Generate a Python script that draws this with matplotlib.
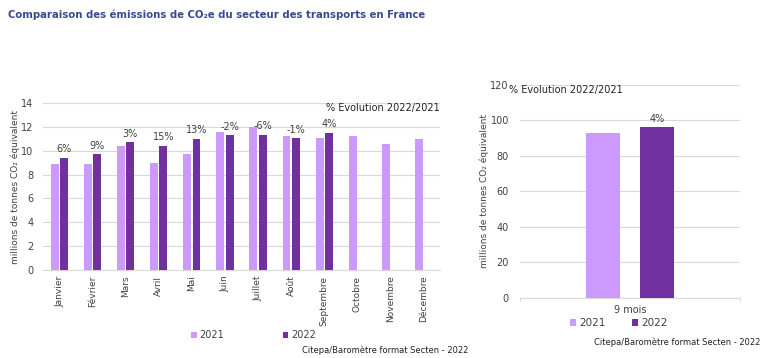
import numpy as np
import matplotlib
matplotlib.use('Agg')
import matplotlib.pyplot as plt

months = ['Janvier', 'Février', 'Mars', 'Avril', 'Mai', 'Juin', 'Juillet',
          'Août', 'Septembre', 'Octobre', 'Novembre', 'Décembre']
vals_2021 = [8.9, 8.9, 10.4, 9.0, 9.7, 11.6, 12.0, 11.2, 11.1, 11.2, 10.6, 11.0]
vals_2022 = [9.4, 9.7, 10.7, 10.4, 11.0, 11.3, 11.35, 11.05, 11.5]
evol = ['6%', '9%', '3%', '15%', '13%', '-2%', '-6%', '-1%', '4%']

cumul_label = ['9 mois']
cumul_2021 = [93.0]
cumul_2022 = [96.5]
cumul_evol = ['4%']

c21 = '#cc99ff'
c22 = '#7030a0'
grid_c = '#d9d9d9'
txt_c = '#404040'

plt.rcParams['font.family'] = ['DejaVu Sans']

W, H = 768, 358
fig = plt.figure(figsize=(W / 100, H / 100), dpi=100)

def px_axes(x0, y0, x1, y1):
	return fig.add_axes([x0 / W, 1 - y1 / H, (x1 - x0) / W, (y1 - y0) / H])

fig.text(8 / W, 1 - 15 / H, 'Comparaison des émissions de CO₂e du secteur des transports en France',
         color='#3b4a8f', fontsize=7.3, fontweight='bold', va='center', ha='left')

# monthly chart
ax = px_axes(43, 103, 440, 270)
x = np.arange(len(months))
w = 0.24
ax.bar(x - 0.14, vals_2021, w, color=c21, label='2021', zorder=3)
x22 = np.arange(len(vals_2022))
ax.bar(x22 + 0.14, vals_2022, w, color=c22, label='2022', zorder=3)
for xi, v, t in zip(x22, vals_2022, evol):
	ax.text(xi + 0.14, v + 0.3, t, ha='center', va='bottom', fontsize=7, color=txt_c)
ax.set_xlim(-0.5, len(months) - 0.5)
ax.set_ylim(0, 14)
ax.set_yticks(range(0, 15, 2))
ax.set_xticks(x)
ax.set_xticklabels(months, rotation=90, fontsize=6.5, color=txt_c)
ax.tick_params(axis='y', labelsize=7, colors=txt_c, length=0, pad=7)
ax.tick_params(axis='x', length=0, pad=4)
ax.yaxis.grid(True, color=grid_c, linewidth=0.8, zorder=0)
for s in ['top', 'right', 'left']:
	ax.spines[s].set_visible(False)
ax.spines['bottom'].set_color(grid_c)
ax.set_ylabel('millions de tonnes CO₂ équivalent', fontsize=6.5, color=txt_c, labelpad=1)
ax.text(1.0, 0.97, '% Evolution 2022/2021', transform=ax.transAxes, ha='right', va='center',
        fontsize=7, color='#222222')
ax.legend(loc='center', bbox_to_anchor=(0.53, -0.39), ncol=2, frameon=False,
          fontsize=7, handlelength=0.6, handleheight=0.6, columnspacing=6, handletextpad=0.3,
          labelcolor=txt_c)
fig.text(468 / W, 1 - 350 / H, 'Citepa/Baromètre format Secten - 2022', ha='right', va='center',
         fontsize=6, color='#222222')

# cumulative chart
ax2 = px_axes(520, 85, 740, 297.7)
ax2.bar([-0.123], cumul_2021, 0.155, color=c21, label='2021', zorder=3)
ax2.bar([0.123], cumul_2022, 0.155, color=c22, label='2022', zorder=3)
ax2.text(0.123, cumul_2022[0] + 1.5, cumul_evol[0], ha='center', va='bottom', fontsize=7, color=txt_c)
ax2.set_xlim(-0.5, 0.5)
ax2.set_ylim(0, 120)
ax2.set_yticks(range(0, 121, 20))
ax2.set_xticks([0])
ax2.set_xticklabels(cumul_label, fontsize=7, color=txt_c)
ax2.set_xticks([-0.5, 0.5], minor=True)
ax2.tick_params(axis='x', which='minor', length=3, color=grid_c)
ax2.tick_params(axis='x', which='major', length=0, pad=5)
ax2.tick_params(axis='y', labelsize=7, colors=txt_c, length=0, pad=8)
ax2.yaxis.grid(True, color=grid_c, linewidth=0.8, zorder=0)
for s in ['top', 'right', 'left']:
	ax2.spines[s].set_visible(False)
ax2.spines['bottom'].set_color(grid_c)
ax2.set_ylabel('millions de tonnes CO₂ équivalent', fontsize=6.5, color=txt_c, labelpad=1)
ax2.text(-0.05, 0.975, '% Evolution 2022/2021', transform=ax2.transAxes, ha='left', va='center',
         fontsize=7, color='#222222')
ax2.legend(loc='center', bbox_to_anchor=(0.45, -0.12), ncol=2, frameon=False,
           fontsize=7.5, handlelength=0.6, handleheight=0.6, columnspacing=2.5, handletextpad=0.3,
           labelcolor=txt_c)
fig.text(760 / W, 1 - 342 / H, 'Citepa/Baromètre format Secten - 2022', ha='right', va='center',
         fontsize=6, color='#222222')

fig.savefig('out.png', dpi=100)
